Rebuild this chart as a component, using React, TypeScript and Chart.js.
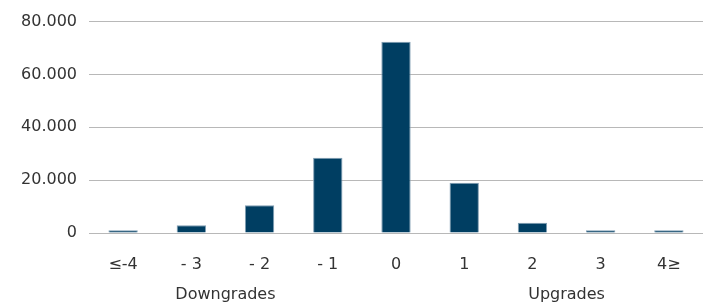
import React, { useEffect, useRef } from "react";
import { Chart, registerables } from "chart.js";

Chart.register(...registerables);

const categories = ["≤-4", "- 3", "- 2", "- 1", "0", "1", "2", "3", "4≥"];
const values = [1000, 2900, 10500, 28500, 72400, 19000, 3900, 1000, 1000];
const groupLabels = ["Downgrades", "Upgrades"];
const groupCenters = [1.5, 6.5];
const yTicks = [0, 20000, 40000, 60000, 80000];

const FONT = "'DejaVu Sans', sans-serif";
const TEXT = "#333333";

function fmt(v: number): string {
  return String(Math.round(v)).replace(/\B(?=(\d{3})+(?!\d))/g, ".");
}

const groupPlugin = {
  id: "groupLabels",
  afterDraw(chart: any) {
    const x = chart.scales.x;
    const ctx = chart.ctx;
    ctx.save();
    ctx.font = `16px ${FONT}`;
    ctx.fillStyle = TEXT;
    ctx.textAlign = "center";
    ctx.textBaseline = "middle";
    groupLabels.forEach((lab, i) => {
      const c = groupCenters[i];
      const lo = Math.floor(c);
      const hi = Math.ceil(c);
      const px = (x.getPixelForValue(lo) + x.getPixelForValue(hi)) / 2;
      ctx.fillText(lab, px, 295);
    });
    ctx.restore();
  },
};

export default function App() {
  const ref = useRef<HTMLCanvasElement | null>(null);
  useEffect(() => {
    document.body.style.margin = "0";
    const canvas = ref.current!;
    const chart = new Chart(canvas, {
      type: "bar",
      data: {
        labels: categories,
        datasets: [
          {
            data: values,
            backgroundColor: "#003e62",
            borderColor: "#7f9db2",
            borderWidth: 1,
            barPercentage: 0.43,
            categoryPercentage: 1,
          },
        ],
      },
      options: {
        animation: false,
        responsive: false,
        maintainAspectRatio: false,
        layout: { padding: { left: 0, right: 0, top: 10, bottom: 0 } },
        plugins: { legend: { display: false }, tooltip: { enabled: false } },
        scales: {
          x: {
            grid: { display: false, drawTicks: false },
            border: { display: false },
            afterFit: (s: any) => {
              s.height = 71;
            },
            ticks: {
              font: { family: FONT, size: 16 },
              color: TEXT,
              padding: 22,
              maxRotation: 0,
            },
          },
          y: {
            min: 0,
            max: 80000,
            afterBuildTicks: (s: any) => {
              s.ticks = yTicks.map((v) => ({ value: v }));
            },
            afterFit: (s: any) => {
              s.width = 89;
            },
            grid: { color: "#b8b8b8", lineWidth: 1, drawTicks: false },
            border: { display: false },
            ticks: {
              font: { family: FONT, size: 16 },
              color: TEXT,
              padding: 12,
              callback: (v: any) => fmt(Number(v)),
            },
          },
        },
      },
      plugins: [groupPlugin],
    });
    return () => chart.destroy();
  }, []);
  return (
    <div style={{ width: 703, height: 304 }}>
      <canvas ref={ref} width={703} height={304} style={{ display: "block" }} />
    </div>
  );
}
